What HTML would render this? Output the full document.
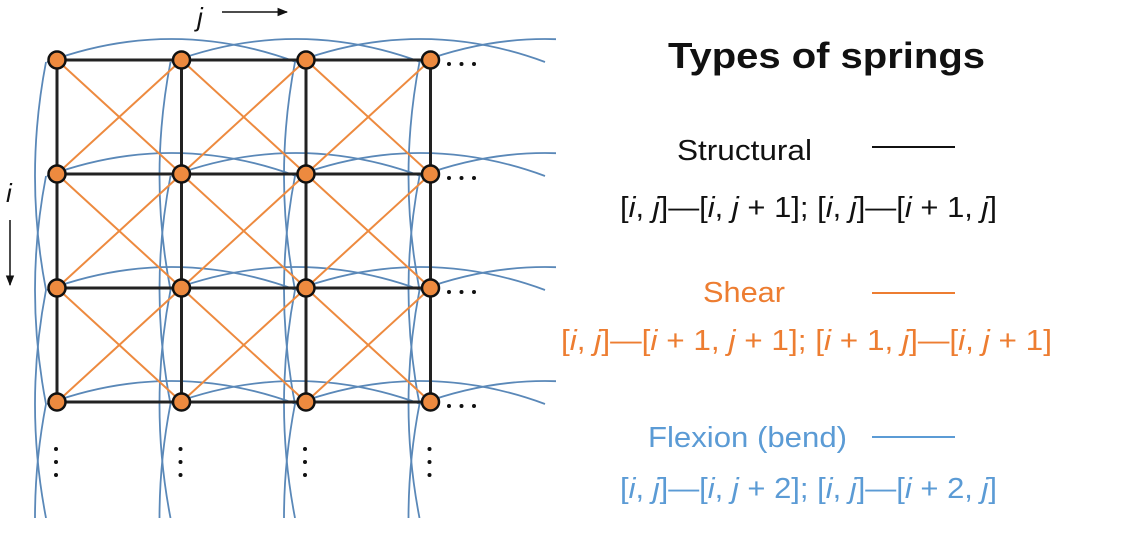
<!DOCTYPE html>
<html><head><meta charset="utf-8"><style>
html,body{margin:0;padding:0;background:#fff;width:1122px;height:548px;overflow:hidden}
svg{display:block}
text{font-family:"Liberation Sans",Arial,sans-serif}
</style></head><body>
<svg id="fig" width="1122" height="548" viewBox="0 0 1122 548">
<defs>
<clipPath id="gridclip"><rect x="0" y="0" width="556" height="518"/></clipPath>
<marker id="ah" viewBox="0 0 10 10" refX="9" refY="5" markerWidth="7" markerHeight="7" orient="auto"><path d="M0,1 L10,5 L0,9 z" fill="#111"/></marker>
</defs>
<g id="springs" clip-path="url(#gridclip)"></g>
<g id="nodes"></g>
<g id="dots"></g>

<text x="197" y="26" font-size="26" font-style="italic" fill="#111">j</text>
<line x1="222" y1="12" x2="287" y2="12" stroke="#111" stroke-width="1.5" marker-end="url(#ah)"/>
<text x="6" y="202" font-size="26" font-style="italic" fill="#111">i</text>
<line x1="10" y1="220" x2="10" y2="285" stroke="#111" stroke-width="1.5" marker-end="url(#ah)"/>

<text x="668" y="68" font-size="36" font-weight="bold" fill="#111" textLength="317" lengthAdjust="spacingAndGlyphs">Types of springs</text>

<text x="677" y="160" font-size="29" fill="#111" textLength="135" lengthAdjust="spacingAndGlyphs">Structural</text>
<line x1="872" y1="147" x2="955" y2="147" stroke="#111" stroke-width="2"/>
<text x="620" y="217" font-size="29" fill="#111" textLength="377" lengthAdjust="spacingAndGlyphs">[<tspan font-style="italic">i</tspan>, <tspan font-style="italic">j</tspan>]—[<tspan font-style="italic">i</tspan>, <tspan font-style="italic">j</tspan> + 1]; [<tspan font-style="italic">i</tspan>, <tspan font-style="italic">j</tspan>]—[<tspan font-style="italic">i</tspan> + 1, <tspan font-style="italic">j</tspan>]</text>

<text x="703" y="302" font-size="29" fill="#ed7d31" textLength="82" lengthAdjust="spacingAndGlyphs">Shear</text>
<line x1="872" y1="293" x2="955" y2="293" stroke="#ed7d31" stroke-width="2"/>
<text x="561" y="350" font-size="29" fill="#ed7d31" textLength="491" lengthAdjust="spacingAndGlyphs">[<tspan font-style="italic">i</tspan>, <tspan font-style="italic">j</tspan>]—[<tspan font-style="italic">i</tspan> + 1, <tspan font-style="italic">j</tspan> + 1]; [<tspan font-style="italic">i</tspan> + 1, <tspan font-style="italic">j</tspan>]—[<tspan font-style="italic">i</tspan>, <tspan font-style="italic">j</tspan> + 1]</text>

<text x="648" y="447" font-size="29" fill="#5b9bd5" textLength="199" lengthAdjust="spacingAndGlyphs">Flexion (bend)</text>
<line x1="872" y1="437" x2="955" y2="437" stroke="#5b9bd5" stroke-width="2"/>
<text x="620" y="498" font-size="29" fill="#5b9bd5" textLength="377" lengthAdjust="spacingAndGlyphs">[<tspan font-style="italic">i</tspan>, <tspan font-style="italic">j</tspan>]—[<tspan font-style="italic">i</tspan>, <tspan font-style="italic">j</tspan> + 2]; [<tspan font-style="italic">i</tspan>, <tspan font-style="italic">j</tspan>]—[<tspan font-style="italic">i</tspan> + 2, <tspan font-style="italic">j</tspan>]</text>
</svg>
<script>
// grid data: column and row indices of masses
const cols = [0, 1, 2, 3];
const rows = [0, 1, 2, 3];
const NS = "http://www.w3.org/2000/svg";
function xs(j){ return 57 + j * 124.5; }
function ys(i){ return 60 + i * 114; }
const springs = document.getElementById('springs');
const nodesG = document.getElementById('nodes');
const dotsG = document.getElementById('dots');
function mk(tag, attrs, parent){
  const e = document.createElementNS(NS, tag);
  for (const k in attrs) e.setAttribute(k, attrs[k]);
  parent.appendChild(e);
  return e;
}
// flexion (blue) horizontal arcs
rows.forEach(i => cols.forEach(j => {
  const x1 = xs(j) - 10, x2 = xs(j + 2) - 10, y = ys(i) + 2;
  const p = mk('path', {d:`M${x1},${y} Q${(x1+x2)/2},${y-46} ${x2},${y}`, fill:'none', stroke:'#5a88b8', 'stroke-width':1.8}, springs);
  
  
}));
// flexion vertical arcs
cols.forEach(j => rows.forEach(i => {
  const y1 = ys(i) + 2, y2 = ys(i + 2) + 2, x = xs(j) - 11;
  const p = mk('path', {d:`M${x},${y1} Q${x-22},${(y1+y2)/2} ${x},${y2}`, fill:'none', stroke:'#5a88b8', 'stroke-width':1.8}, springs);
  
  
}));
// shear (orange)
rows.slice(0, -1).forEach(i => cols.slice(0, -1).forEach(j => {
  const a = mk('line', {x1:xs(j), y1:ys(i), x2:xs(j+1), y2:ys(i+1), stroke:'#ed8a3f', 'stroke-width':2}, springs);
  
  
  const b = mk('line', {x1:xs(j+1), y1:ys(i), x2:xs(j), y2:ys(i+1), stroke:'#ed8a3f', 'stroke-width':2}, springs);
  
  
}));
// structural (black)
rows.forEach(i => cols.slice(0, -1).forEach(j => {
  const l = mk('line', {x1:xs(j), y1:ys(i), x2:xs(j+1), y2:ys(i), stroke:'#222', 'stroke-width':3}, springs);
  
  
}));
cols.forEach(j => rows.slice(0, -1).forEach(i => {
  const l = mk('line', {x1:xs(j), y1:ys(i), x2:xs(j), y2:ys(i+1), stroke:'#222', 'stroke-width':3}, springs);
  
  
}));
// nodes
rows.forEach(i => cols.forEach(j => {
  const c = mk('circle', {cx:xs(j), cy:ys(i), r:8.5, fill:'#ed8a3f', stroke:'#111', 'stroke-width':2.5}, nodesG);
  
  
}));
// continuation dots
rows.forEach(i => [0,1,2].forEach(k => {
  const d = mk('circle', {cx:449 + k*12.5, cy:ys(i)+4, r:2, fill:'#111'}, dotsG);
  
  
}));
cols.forEach(j => [0,1,2].forEach(k => {
  const d = mk('circle', {cx:xs(j)-1, cy:449 + k*13, r:2, fill:'#111'}, dotsG);
  
  
}));
</script>
</body></html>
